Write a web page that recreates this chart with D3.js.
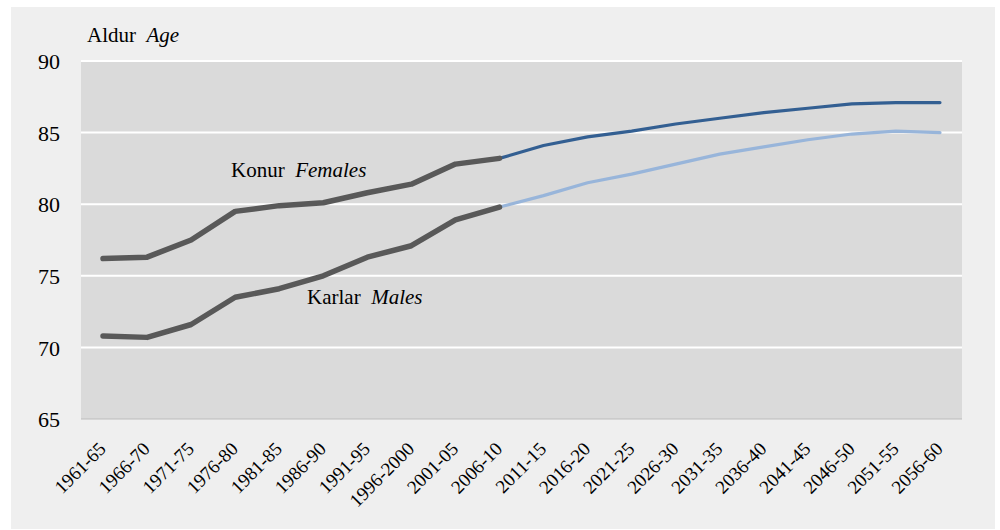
<!DOCTYPE html>
<html>
<head>
<meta charset="utf-8">
<script src="https://cdn.jsdelivr.net/npm/d3@7"></script>
<style>
  html, body { margin: 0; padding: 0; background: #fff; }
  text { font-family: "Liberation Serif", "Times New Roman", serif; fill: #000; }
</style>
</head>
<body>
<svg id="chart" width="1000" height="530"></svg>
<script>
// tímabil / periods
var periods = ['1961-65', '1966-70', '1971-75', '1976-80', '1981-85', '1986-90', '1991-95',
  '1996-2000', '2001-05', '2006-10', '2011-15', '2016-20', '2021-25', '2026-30', '2031-35',
  '2036-40', '2041-45', '2046-50', '2051-55', '2056-60'];

// lífslíkur, mælt (1961-65 .. 2006-10)
var femalesHist = [76.2, 76.3, 77.5, 79.5, 79.9, 80.1, 80.8, 81.4, 82.8, 83.2];
var malesHist = [70.8, 70.7, 71.6, 73.5, 74.1, 75.0, 76.3, 77.1, 78.9, 79.8];

// spá (2006-10 .. 2056-60)
var femalesProj = [83.2, 84.1, 84.7, 85.1, 85.6, 86.0, 86.4, 86.7, 87.0, 87.1, 87.1];
var malesProj = [79.8, 80.6, 81.5, 82.1, 82.8, 83.5, 84.0, 84.5, 84.9, 85.1, 85.0];

var yTicks = [65, 70, 75, 80, 85, 90];

var svg = d3.select('#chart');
var mLeft = 81, mRight = 962, mTop = 61, mBottom = 419;

// bakgrunnur
svg.append('rect')
    .attr('x', 11).attr('y', 7)
    .attr('width', 984).attr('height', 522)
    .attr('fill', '#efefef');

svg.append('rect')
    .attr('x', mLeft).attr('y', mTop)
    .attr('width', mRight - mLeft).attr('height', mBottom - mTop)
    .attr('fill', '#dadada');

var x = d3.scaleBand()
    .domain(periods)
    .range([mLeft, mRight]);

var y = d3.scaleLinear()
    .domain([65, 90])
    .range([mBottom, mTop]);

var cx = function (p) { return x(p) + x.bandwidth() / 2; };

// gridlínur
svg.append('g')
    .selectAll('line')
    .data(yTicks.filter(function (t) { return t > 65; }))
    .enter()
    .append('line')
    .attr('x1', mLeft).attr('x2', mRight)
    .attr('y1', function (d) { return y(d); })
    .attr('y2', function (d) { return y(d); })
    .attr('stroke', '#fff')
    .attr('stroke-width', 2);

svg.append('line')
    .attr('x1', mLeft).attr('x2', mRight)
    .attr('y1', y(65)).attr('y2', y(65))
    .attr('stroke', '#bdbdbd')
    .attr('stroke-width', 1);

// y-ás
var yAxis = d3.axisLeft(y).tickValues(yTicks).tickSize(0).tickPadding(0);
var gy = svg.append('g')
    .attr('transform', 'translate(60,0)')
    .call(yAxis);
gy.select('.domain').remove();
gy.selectAll('text')
    .style('font-size', '22px')
    .style('font-family', '"Liberation Serif", serif')
    .attr('dy', '0.35em');

// x-ás
var xAxis = d3.axisBottom(x).tickSize(0).tickPadding(0);
var gx = svg.append('g')
    .attr('transform', 'translate(0,' + mBottom + ')')
    .call(xAxis);
gx.select('.domain').remove();
gx.selectAll('text')
    .style('font-size', '19px')
    .style('font-family', '"Liberation Serif", serif')
    .attr('text-anchor', 'end')
    .attr('dy', '0')
    .attr('y', 0)
    .attr('transform', 'translate(4,31) rotate(-45)');

// línur
var line = d3.line()
    .x(function (d) { return cx(d[0]); })
    .y(function (d) { return y(d[1]); });

function pairs(labels, vals) {
    return vals.map(function (v, i) { return [labels[i], v]; });
}

var histLabels = periods.slice(0, 10);
var projLabels = periods.slice(9);

svg.append('path')
    .datum(pairs(projLabels, femalesProj))
    .attr('d', line)
    .attr('fill', 'none')
    .attr('stroke', '#335f92')
    .attr('stroke-width', 3.2)
    .attr('stroke-linecap', 'round')
    .attr('stroke-linejoin', 'round');

svg.append('path')
    .datum(pairs(projLabels, malesProj))
    .attr('d', line)
    .attr('fill', 'none')
    .attr('stroke', '#98b5da')
    .attr('stroke-width', 3.2)
    .attr('stroke-linecap', 'round')
    .attr('stroke-linejoin', 'round');

[femalesHist, malesHist].forEach(function (vals) {
    svg.append('path')
        .datum(pairs(histLabels, vals))
        .attr('d', line)
        .attr('fill', 'none')
        .attr('stroke', '#595959')
        .attr('stroke-width', 5.5)
        .attr('stroke-linecap', 'round')
        .attr('stroke-linejoin', 'round');
});

// textar
function label(xp, yp, plain, italic) {
    var t = svg.append('text')
        .attr('x', xp).attr('y', yp)
        .style('font-size', '21px');
    t.append('tspan').text(plain + '\u00a0\u00a0');
    t.append('tspan').style('font-style', 'italic').text(italic);
}

label(87, 42, 'Aldur', 'Age');
label(231, 177, 'Konur', 'Females');
label(307, 304, 'Karlar', 'Males');
</script>
</body>
</html>
